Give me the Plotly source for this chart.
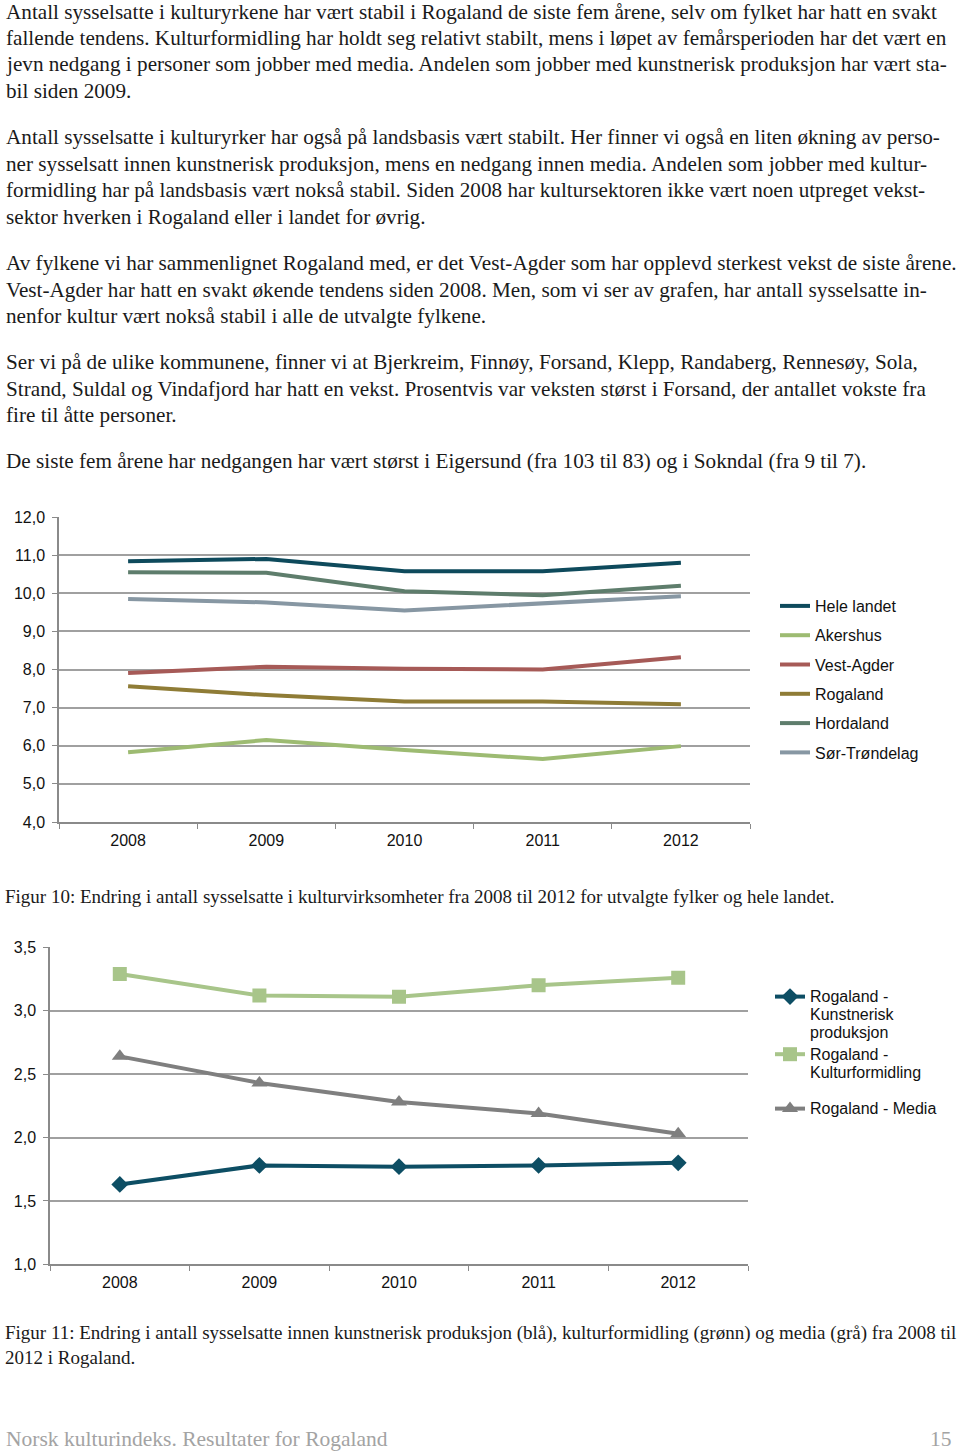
import plotly.graph_objects as go

W, H = 960, 1451

years = ["2008", "2009", "2010", "2011", "2012"]

# Figure 10 series
hele_landet = [10.84, 10.90, 10.58, 10.58, 10.80]
akershus = [5.83, 6.15, 5.89, 5.65, 5.99]
vest_agder = [7.91, 8.07, 8.02, 8.00, 8.32]
rogaland = [7.56, 7.33, 7.16, 7.16, 7.09]
hordaland = [10.55, 10.54, 10.05, 9.95, 10.20]
sor_trondelag = [9.85, 9.76, 9.55, 9.73, 9.92]

# Figure 11 series
kunstnerisk = [1.63, 1.78, 1.77, 1.78, 1.80]
kulturformidling = [3.29, 3.12, 3.11, 3.20, 3.26]
media = [2.64, 2.43, 2.28, 2.19, 2.03]

ticks1 = [4, 5, 6, 7, 8, 9, 10, 11, 12]
ticks2 = [1.0, 1.5, 2.0, 2.5, 3.0, 3.5]

names2 = [["Rogaland -", "Kunstnerisk", "produksjon"],
          ["Rogaland -", "Kulturformidling"],
          ["Rogaland - Media"]]

body_lines = [
    (12, "Antall sysselsatte i kulturyrkene har vært stabil i Rogaland de siste fem årene, selv om fylket har hatt en svakt"),
    (38, "fallende tendens. Kulturformidling har holdt seg relativt stabilt, mens i løpet av femårsperioden har det vært en"),
    (64, "jevn nedgang i personer som jobber med media. Andelen som jobber med kunstnerisk produksjon har vært sta-"),
    (91, "bil siden 2009."),
    (137, "Antall sysselsatte i kulturyrker har også på landsbasis vært stabilt. Her finner vi også en liten økning av perso-"),
    (164, "ner sysselsatt innen kunstnerisk produksjon, mens en nedgang innen media. Andelen som jobber med kultur-"),
    (190, "formidling har på landsbasis vært nokså stabil. Siden 2008 har kultursektoren ikke vært noen utpreget vekst-"),
    (217, "sektor hverken i Rogaland eller i landet for øvrig."),
    (263, "Av fylkene vi har sammenlignet Rogaland med, er det Vest-Agder som har opplevd sterkest vekst de siste årene."),
    (290, "Vest-Agder har hatt en svakt økende tendens siden 2008. Men, som vi ser av grafen, har antall sysselsatte in-"),
    (316, "nenfor kultur vært nokså stabil i alle de utvalgte fylkene."),
    (362, "Ser vi på de ulike kommunene, finner vi at Bjerkreim, Finnøy, Forsand, Klepp, Randaberg, Rennesøy, Sola,"),
    (389, "Strand, Suldal og Vindafjord har hatt en vekst. Prosentvis var veksten størst i Forsand, der antallet vokste fra"),
    (415, "fire til åtte personer."),
    (461, "De siste fem årene har nedgangen har vært størst i Eigersund (fra 103 til 83) og i Sokndal (fra 9 til 7)."),
]
caption_lines = [
    (896, "Figur 10: Endring i antall sysselsatte i kulturvirksomheter fra 2008 til 2012 for utvalgte fylker og hele landet."),
    (1333, "Figur 11: Endring i antall sysselsatte innen kunstnerisk produksjon (blå), kulturformidling (grønn) og media (grå) fra 2008 til"),
    (1357, "2012 i Rogaland."),
]

def py(px):
    return 1 - px / H

fig = go.Figure()

series1 = [
    ("Hele landet", hele_landet, "#0e4a5c"),
    ("Akershus", akershus, "#9dbb72"),
    ("Vest-Agder", vest_agder, "#a65a57"),
    ("Rogaland", rogaland, "#8f7c36"),
    ("Hordaland", hordaland, "#5e7d6c"),
    ("Sør-Trøndelag", sor_trondelag, "#8797a3"),
]
for i, (name, vals, col) in enumerate(series1):
    fig.add_trace(go.Scatter(
        x=years, y=vals, name=name, mode="lines",
        line=dict(color=col, width=4), xaxis="x", yaxis="y",
        legend="legend", legendgroup=f"g{i}",
    ))

styles2 = [
    ("#0d4e64", "diamond", 13, "legend2"),
    ("#a8c58a", "square", 14, "legend2"),
    ("#7f7f7f", "triangle-up", 14, "legend3"),
]
for i, (lines, vals, (col, sym, sz, leg)) in enumerate(zip(names2, [kunstnerisk, kulturformidling, media], styles2)):
    label = "<br>".join(f'<span style="font-size:16px">{ln}</span>' for ln in lines)
    fig.add_trace(go.Scatter(
        x=years, y=vals, name=label, mode="lines+markers",
        line=dict(color=col, width=4), marker=dict(symbol=sym, size=sz, color=col),
        xaxis="x2", yaxis="y2", legend=leg, legendgroup=f"h{i}",
    ))

axis_font = dict(family="Liberation Sans, Arial, sans-serif", size=16, color="#111")
grid_col = "#a0a0a0"
line_col = "#8a8a8a"

common_x = dict(type="category", tickson="boundaries", ticks="outside", ticklen=5,
                tickcolor=line_col, showline=True, linecolor=line_col, linewidth=1.5,
                showgrid=False, tickfont=axis_font, zeroline=False, fixedrange=True,
                range=[-0.5, 4.5], automargin=False, ticklabelstandoff=3)
common_y = dict(showline=True, linecolor=line_col, linewidth=1.5, ticks="outside", ticklen=5,
                tickcolor=line_col, gridcolor=grid_col, gridwidth=1.5, tickfont=axis_font,
                tickformat=".1f", zeroline=False, fixedrange=True, automargin=False,
                ticklabelstandoff=4)

serif = "Liberation Serif, Times New Roman, serif"
annotations = []
for y, t in body_lines:
    annotations.append(dict(x=4 / W, y=py(y), xref="paper", yref="paper", text=t, showarrow=False,
                            xanchor="left", yanchor="middle",
                            font=dict(family=serif, size=21.2, color="#1a1a1a")))
for y, t in caption_lines:
    annotations.append(dict(x=3 / W, y=py(y), xref="paper", yref="paper", text=t, showarrow=False,
                            xanchor="left", yanchor="middle",
                            font=dict(family=serif, size=19, color="#1a1a1a")))
annotations.append(dict(x=4 / W, y=py(1439), xref="paper", yref="paper",
                        text="Norsk kulturindeks. Resultater for Rogaland", showarrow=False,
                        xanchor="left", yanchor="middle",
                        font=dict(family=serif, size=21.5, color="#a3a3a3")))
annotations.append(dict(x=954 / W, y=py(1439), xref="paper", yref="paper", text="15", showarrow=False,
                        xanchor="right", yanchor="middle",
                        font=dict(family=serif, size=21.5, color="#a3a3a3")))

legend_font = dict(family="Liberation Sans, Arial, sans-serif", size=16, color="#111")
leg_common = dict(xanchor="left", yanchor="top", bgcolor="rgba(0,0,0,0)",
                  itemwidth=30, valign="top")

fig.update_layout(
    width=W, height=H, margin=dict(l=0, r=0, t=0, b=0, autoexpand=False),
    paper_bgcolor="white", plot_bgcolor="white",
    separators=", ",
    showlegend=True,
    xaxis=dict(domain=[59 / W, 750 / W], anchor="y", **common_x),
    yaxis=dict(domain=[py(822), py(517)], anchor="x", range=[4, 12], tickvals=ticks1, **common_y),
    xaxis2=dict(domain=[50 / W, 748 / W], anchor="y2", **common_x),
    yaxis2=dict(domain=[py(1264.3), py(947.3)], anchor="x2", range=[1.0, 3.5], tickvals=ticks2, **common_y),
    legend=dict(x=775 / W, y=py(589), tracegroupgap=5.5, font=legend_font, **leg_common),
    legend2=dict(x=770 / W, y=py(981), tracegroupgap=0,
                 font=dict(family="Liberation Sans, Arial, sans-serif", size=14, color="#111"), **leg_common),
    legend3=dict(x=770 / W, y=py(1093), tracegroupgap=0,
                 font=dict(family="Liberation Sans, Arial, sans-serif", size=14, color="#111"), **leg_common),
    annotations=annotations,
)

fig.write_html("out.html", config={"displayModeBar": False},
               post_script="document.body.style.margin='0';document.body.style.overflow='hidden';")
